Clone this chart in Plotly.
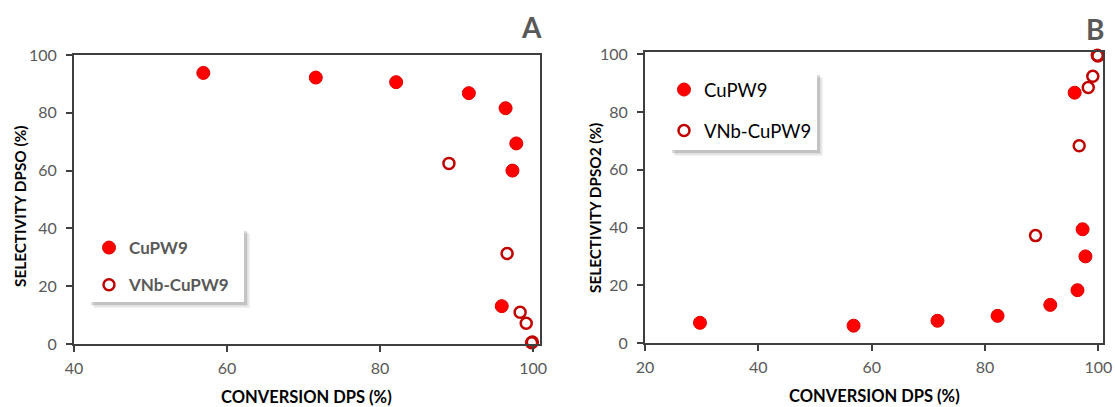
import plotly.graph_objects as go

W, H = 1115, 407

# ---- data ----
# Panel A: selectivity to DPSO
cu_conv_A = [56.9, 71.6, 82.1, 91.6, 96.4, 97.8, 97.3, 95.9]
cu_dpso = [93.8, 92.2, 90.6, 86.8, 81.6, 69.4, 60.0, 13.1]
vnb_conv_A = [89.0, 96.6, 98.3, 99.1, 99.8, 99.9]
vnb_dpso = [62.5, 31.3, 11.0, 7.2, 0.4, 0.7]

# Panel B: selectivity to DPSO2
cu_conv_B = [29.7, 56.8, 71.6, 82.2, 91.5, 96.3, 97.7, 97.2, 95.8]
cu_dpso2 = [7.0, 6.0, 7.7, 9.4, 13.2, 18.3, 30.0, 39.4, 86.7]
vnb_conv_B = [88.9, 96.6, 98.2, 99.0, 99.8, 99.9]
vnb_dpso2 = [37.2, 68.3, 88.5, 92.4, 99.7, 99.4]

series_names = ["CuPW9", "VNb-CuPW9"]
x_title = "CONVERSION DPS (%)"
y_title_A = "SELECTIVITY DPSO (%)"
y_title_B = "SELECTIVITY DPSO2 (%)"

FONT = "Lato, 'Open Sans', sans-serif"
RED = "#FF0000"
DARKRED = "#C00000"
FRAME = "#3F3F3F"
GREY = "#595959"


def px(x):
    return x / W


def py(y):
    return 1 - y / H


filled = dict(symbol="circle", size=13, color=RED, line=dict(color="#E00000", width=1))
hollow = dict(symbol="circle-open", size=11, color=DARKRED, line=dict(color=DARKRED, width=2.5))

fig = go.Figure()
fig.add_trace(go.Scatter(x=cu_conv_A, y=cu_dpso, mode="markers", name=series_names[0],
                         marker=filled, xaxis="x", yaxis="y", legend="legend",
                         legendgroup="a1", cliponaxis=False))
fig.add_trace(go.Scatter(x=vnb_conv_A, y=vnb_dpso, mode="markers", name=series_names[1],
                         marker=hollow, xaxis="x", yaxis="y", legend="legend",
                         legendgroup="a2", cliponaxis=False))
fig.add_trace(go.Scatter(x=cu_conv_B, y=cu_dpso2, mode="markers", name=series_names[0],
                         marker=filled, xaxis="x2", yaxis="y2", legend="legend2",
                         legendgroup="b1", cliponaxis=False))
fig.add_trace(go.Scatter(x=vnb_conv_B, y=vnb_dpso2, mode="markers", name=series_names[1],
                         marker=hollow, xaxis="x2", yaxis="y2", legend="legend2",
                         legendgroup="b2", cliponaxis=False))

axis_common = dict(showline=True, linecolor=FRAME, linewidth=2, mirror=True,
                   showgrid=False, zeroline=False, ticks="outside", ticklen=6,
                   tickwidth=1.5, tickcolor=FRAME, dtick=20, automargin=False,
                   tickfont=dict(family=FONT, size=16, color=GREY))
xcommon = dict(ticklabelstandoff=3, **axis_common)
ycommon = dict(ticklabelstandoff=6, **axis_common)

fig.update_layout(
    width=W, height=H,
    margin=dict(l=0, r=0, t=0, b=0, autoexpand=False),
    paper_bgcolor="white", plot_bgcolor="white",
    showlegend=True,
    xaxis=dict(domain=[px(74), px(540)], range=[40, 100.9], anchor="y", **xcommon),
    yaxis=dict(domain=[py(344), py(55)], range=[0, 100], anchor="x", **ycommon),
    xaxis2=dict(domain=[px(645), px(1103)], range=[20, 100.8], anchor="y2", **xcommon),
    yaxis2=dict(domain=[py(343), py(52)], range=[0, 100.8], anchor="x2", **ycommon),
    legend=dict(x=px(89), y=py(230), xanchor="left", yanchor="top",
                bgcolor="rgba(0,0,0,0)", borderwidth=0, tracegroupgap=12,
                font=dict(family=FONT, size=17, color=GREY, weight="bold")),
    legend2=dict(x=px(664), y=py(71), xanchor="left", yanchor="top",
                 bgcolor="rgba(0,0,0,0)", borderwidth=0, tracegroupgap=14,
                 font=dict(family=FONT, size=18.5, color="black")),
)

# legend boxes with soft shadows
shapes = []
for (x0, y0, x1, y1) in [(88, 228, 244, 302), (669, 72, 817, 150)]:
    for off, alpha in [(6, 0.05), (4.5, 0.08), (3, 0.12)]:
        shapes.append(dict(type="rect", xref="paper", yref="paper",
                           x0=px(x0 + off), x1=px(x1 + off), y0=py(y1 + off), y1=py(y0 + off),
                           fillcolor=f"rgba(0,0,0,{alpha})", line=dict(width=0), layer="above"))
    shapes.append(dict(type="rect", xref="paper", yref="paper",
                       x0=px(x0), x1=px(x1), y0=py(y1), y1=py(y0),
                       fillcolor="white", line=dict(width=0), layer="above"))
fig.update_layout(shapes=shapes)

ann = []
xt_font = dict(family=FONT, size=16.5, color="black", weight="bold")
yt_font = dict(family=FONT, size=15.3, color="black", weight="bold")
ann.append(dict(text=x_title, x=px(307), y=py(397), xref="paper", yref="paper",
                showarrow=False, font=xt_font, xanchor="center", yanchor="middle"))
ann.append(dict(text=x_title, x=px(874), y=py(396), xref="paper", yref="paper",
                showarrow=False, font=xt_font, xanchor="center", yanchor="middle"))
ann.append(dict(text=y_title_A, x=px(20), y=py(207), xref="paper", yref="paper",
                showarrow=False, font=yt_font, textangle=-90,
                xanchor="center", yanchor="middle"))
ann.append(dict(text=y_title_B, x=px(595), y=py(208), xref="paper", yref="paper",
                showarrow=False, font=yt_font, textangle=-90,
                xanchor="center", yanchor="middle"))
letter_font = dict(family=FONT, size=28, color=GREY, weight="bold")
ann.append(dict(text="A", x=px(531), y=py(27), xref="paper", yref="paper",
                showarrow=False, font=letter_font, xanchor="center", yanchor="middle"))
ann.append(dict(text="B", x=px(1095), y=py(29), xref="paper", yref="paper",
                showarrow=False, font=letter_font, xanchor="center", yanchor="middle"))
fig.update_layout(annotations=ann)

fig.write_html("out.html", config={"displayModeBar": False},
               post_script="document.body.style.margin='0';document.body.style.overflow='hidden';")
